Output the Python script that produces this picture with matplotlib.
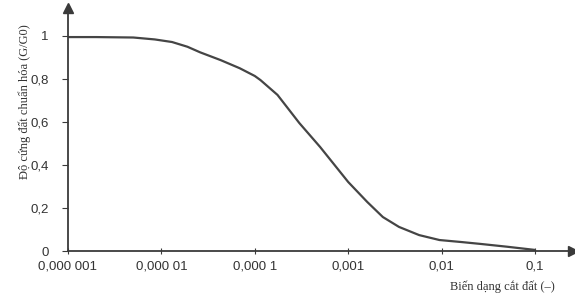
import matplotlib
matplotlib.use('Agg')
import matplotlib.pyplot as plt

plt.rcParams['font.family'] = ['Liberation Sans', 'DejaVu Sans']

# ── 데이터 ─────────────────────────────────────────
strain = [1e-6, 2e-6, 5e-6, 8.5e-6, 1.3e-5, 1.9e-5, 2.6e-5, 4.3e-5, 6.9e-5,
          1e-4, 1.15e-4, 1.75e-4, 3e-4, 5e-4, 1e-3, 1.6e-3, 2.35e-3, 3.5e-3,
          5.75e-3, 9.5e-3, 1.6e-2, 2.6e-2, 5e-2, 1e-1]
g_ratio = [0.995, 0.995, 0.993, 0.984, 0.972, 0.950, 0.924, 0.888, 0.850,
           0.814, 0.795, 0.726, 0.595, 0.484, 0.321, 0.228, 0.158, 0.112,
           0.074, 0.051, 0.042, 0.033, 0.020, 0.005]

x_ticks = [1e-6, 1e-5, 1e-4, 1e-3, 1e-2, 1e-1]
x_labels = ['0,000 001', '0,000 01', '0,000 1', '0,001', '0,01', '0,1']
y_ticks = [0, 0.2, 0.4, 0.6, 0.8, 1.0]
y_labels = ['0', '0,2', '0,4', '0,6', '0,8', '1']

AXIS = '#3a3a3a'
LINE = '#454545'
TXT = '#333333'

fig = plt.figure(figsize=(5.75, 2.98), dpi=100)
ax = fig.add_axes([68 / 575, 47 / 298, 505 / 575, 243 / 298])

ax.plot(strain, g_ratio, color=LINE, linewidth=1.6, solid_capstyle='round')

ax.set_xscale('log')
ax.set_xlim(1e-6, 10 ** -0.593)
ax.set_ylim(0, 243 / 215)
ax.minorticks_off()

ax.set_xticks(x_ticks)
ax.set_xticklabels(x_labels, fontsize=9.5, color=TXT)
ax.set_yticks(y_ticks)
ax.set_yticklabels(y_labels, fontsize=9.5, color=TXT)

ax.tick_params(axis='x', direction='inout', length=4, width=0.8, color=AXIS, pad=5)
ax.tick_params(axis='y', direction='out', length=4, width=0.8, color=AXIS, pad=10)

for s in ['top', 'right']:
    ax.spines[s].set_visible(False)
for s in ['left', 'bottom']:
    ax.spines[s].set_color(AXIS)
    ax.spines[s].set_linewidth(1.3)

# 축 끝 화살표
ax.plot(1, 0, marker='>', markersize=7, color=AXIS, transform=ax.transAxes, clip_on=False)
ax.plot(0, 1, marker='^', markersize=7, color=AXIS, transform=ax.transAxes, clip_on=False)

fig.text(25 / 575, 1 - 102 / 298, 'Độ cứng đất chuẩn hóa (G/G0)',
         rotation=90, ha='center', va='center', fontsize=9,
         family=['Liberation Serif', 'DejaVu Serif'], color=TXT)
fig.text(502 / 575, 1 - 287 / 298, 'Biến dạng cắt đất (–)',
         ha='center', va='center', fontsize=9,
         family=['Liberation Serif', 'DejaVu Serif'], color=TXT)

fig.savefig('out.png', dpi=100)
